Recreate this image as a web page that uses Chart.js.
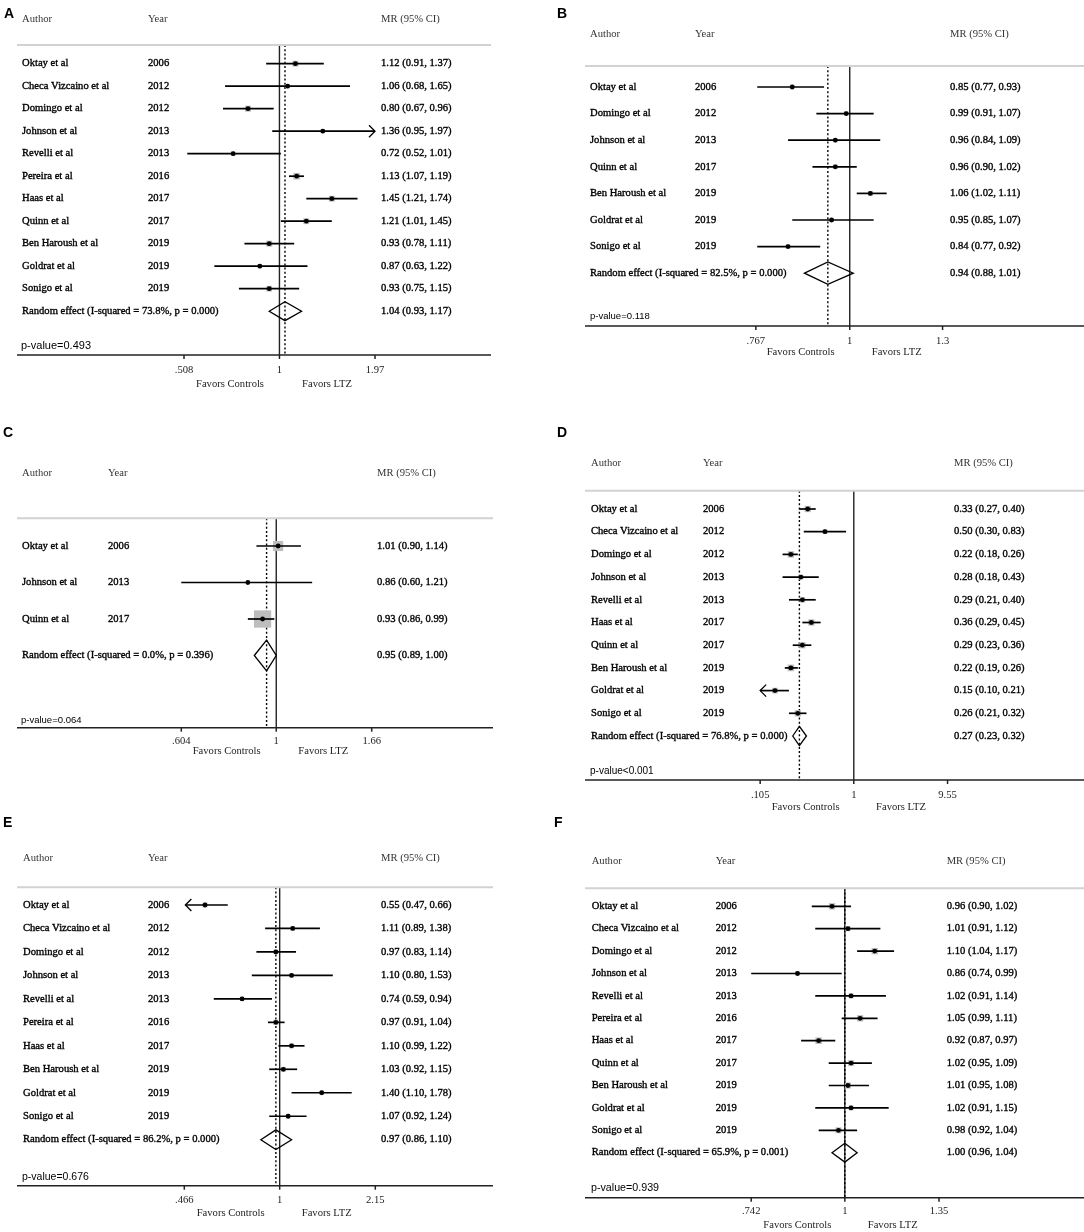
<!DOCTYPE html>
<html>
<head>
<meta charset="utf-8">
<title>Forest plots A-F</title>
<script src="https://cdn.jsdelivr.net/npm/chart.js@4.4.1/dist/chart.umd.min.js"></script>
<style>
  body { margin: 0; background: #fff; }
  #wrap { position: relative; width: 1084px; height: 1232px; overflow: hidden; }
  canvas { position: absolute; }
</style>
</head>
<body>
<div id="wrap"></div>
<script>
// ---- data ----
// A
var authorsA = ['Oktay et al', 'Checa Vizcaino et al', 'Domingo et al', 'Johnson et al', 'Revelli et al', 'Pereira et al', 'Haas et al', 'Quinn et al', 'Ben Haroush et al', 'Goldrat et al', 'Sonigo et al'];
var yearsA = [2006, 2012, 2012, 2013, 2013, 2016, 2017, 2017, 2019, 2019, 2019];
var mrA = [1.12, 1.06, 0.80, 1.36, 0.72, 1.13, 1.45, 1.21, 0.93, 0.87, 0.93];
var loA = [0.91, 0.68, 0.67, 0.95, 0.52, 1.07, 1.21, 1.01, 0.78, 0.63, 0.75];
var hiA = [1.37, 1.65, 0.96, 1.97, 1.01, 1.19, 1.74, 1.45, 1.11, 1.22, 1.15];
var weightA = [9.5, 4.5, 10, 4.5, 5.5, 12, 9.5, 9.5, 10, 5, 9];
var pooledA = [1.04, 0.93, 1.17];
var i2A = 73.8, hetPA = 0.000;
var pValueA = 'p-value=0.493';
var ticksA = [0.508, 1, 1.97];
var arrowsA = [3];

// B
var authorsB = ['Oktay et al', 'Domingo et al', 'Johnson et al', 'Quinn et al', 'Ben Haroush et al', 'Goldrat et al', 'Sonigo et al'];
var yearsB = [2006, 2012, 2013, 2017, 2019, 2019, 2019];
var mrB = [0.85, 0.99, 0.96, 0.96, 1.06, 0.95, 0.84];
var loB = [0.77, 0.91, 0.84, 0.90, 1.02, 0.85, 0.77];
var hiB = [0.93, 1.07, 1.09, 1.02, 1.11, 1.07, 0.92];
var weightB = [14.5, 14, 12.5, 15.5, 16.5, 12.5, 14.5];
var pooledB = [0.94, 0.88, 1.01];
var i2B = 82.5, hetPB = 0.000;
var pValueB = 'p-value=0.118';
var ticksB = [0.767, 1, 1.3];
var arrowsB = [];

// C
var authorsC = ['Oktay et al', 'Johnson et al', 'Quinn et al'];
var yearsC = [2006, 2013, 2017];
var mrC = [1.01, 0.86, 0.93];
var loC = [0.90, 0.60, 0.86];
var hiC = [1.14, 1.21, 0.99];
var weightC = [25, 3, 72];
var pooledC = [0.95, 0.89, 1.00];
var i2C = 0.0, hetPC = 0.396;
var pValueC = 'p-value=0.064';
var ticksC = [0.604, 1, 1.66];
var arrowsC = [];

// D
var authorsD = ['Oktay et al', 'Checa Vizcaino et al', 'Domingo et al', 'Johnson et al', 'Revelli et al', 'Haas et al', 'Quinn et al', 'Ben Haroush et al', 'Goldrat et al', 'Sonigo et al'];
var yearsD = [2006, 2012, 2012, 2013, 2013, 2017, 2017, 2019, 2019, 2019];
var mrD = [0.33, 0.50, 0.22, 0.28, 0.29, 0.36, 0.29, 0.22, 0.15, 0.26];
var loD = [0.27, 0.30, 0.18, 0.18, 0.21, 0.29, 0.23, 0.19, 0.10, 0.21];
var hiD = [0.40, 0.83, 0.26, 0.43, 0.40, 0.45, 0.36, 0.26, 0.21, 0.32];
var weightD = [11, 6, 11.5, 6.5, 9, 11, 11, 12, 9, 11];
var pooledD = [0.27, 0.23, 0.32];
var i2D = 76.8, hetPD = 0.000;
var pValueD = 'p-value<0.001';
var ticksD = [0.105, 1, 9.55];
var arrowsD = [8];

// E
var authorsE = ['Oktay et al', 'Checa Vizcaino et al', 'Domingo et al', 'Johnson et al', 'Revelli et al', 'Pereira et al', 'Haas et al', 'Ben Haroush et al', 'Goldrat et al', 'Sonigo et al'];
var yearsE = [2006, 2012, 2012, 2013, 2013, 2016, 2017, 2019, 2019, 2019];
var mrE = [0.55, 1.11, 0.97, 1.10, 0.74, 0.97, 1.10, 1.03, 1.40, 1.07];
var loE = [0.47, 0.89, 0.83, 0.80, 0.59, 0.91, 0.99, 0.92, 1.10, 0.92];
var hiE = [0.66, 1.38, 1.14, 1.53, 0.94, 1.04, 1.22, 1.15, 1.78, 1.24];
var weightE = [10.5, 9, 9.5, 7, 8.5, 12, 11, 11, 8, 10];
var pooledE = [0.97, 0.86, 1.10];
var i2E = 86.2, hetPE = 0.000;
var pValueE = 'p-value=0.676';
var ticksE = [0.466, 1, 2.15];
var arrowsE = [0];

// F
var authorsF = ['Oktay et al', 'Checa Vizcaino et al', 'Domingo et al', 'Johnson et al', 'Revelli et al', 'Pereira et al', 'Haas et al', 'Quinn et al', 'Ben Haroush et al', 'Goldrat et al', 'Sonigo et al'];
var yearsF = [2006, 2012, 2012, 2013, 2013, 2016, 2017, 2017, 2019, 2019, 2019];
var mrF = [0.96, 1.01, 1.10, 0.86, 1.02, 1.05, 0.92, 1.02, 1.01, 1.02, 0.98];
var loF = [0.90, 0.91, 1.04, 0.74, 0.91, 0.99, 0.87, 0.95, 0.95, 0.91, 0.92];
var hiF = [1.02, 1.12, 1.17, 0.99, 1.14, 1.11, 0.97, 1.09, 1.08, 1.15, 1.04];
var weightF = [11, 7, 11, 5, 7, 11, 12, 9.5, 10, 6.5, 10];
var pooledF = [1.00, 0.96, 1.04];
var i2F = 65.9, hetPF = 0.001;
var pValueF = 'p-value=0.939';
var ticksF = [0.742, 1, 1.35];
var arrowsF = [];

// ---- layout of each panel (pixels, local to its canvas) ----
var panels = [
	{ letter: 'A', authors: authorsA, years: yearsA, mr: mrA, lo: loA, hi: hiA, weight: weightA, pooled: pooledA, i2: i2A, hetP: hetPA, pValue: pValueA, ticks: ticksA, arrows: arrowsA,
	  geo: { left: 0, top: 0, w: 540, h: 410, letterX: 4, letterY: 18, headY: 19, colAuthor: 22, colYear: 148, colMR: 381, headerLine: 45, lineLeft: 17, lineRight: 491,
	         row0: 63.7, step: 22.5, pX: 21, pY: 346, pFont: 11, axis: 355, tickLoPx: 184, tickHiPx: 375, tickLabelY: 370, favY: 384, favL: 230, favR: 327, boxScale: 1.9 } },
	{ letter: 'B', authors: authorsB, years: yearsB, mr: mrB, lo: loB, hi: hiB, weight: weightB, pooled: pooledB, i2: i2B, hetP: hetPB, pValue: pValueB, ticks: ticksB, arrows: arrowsB,
	  geo: { left: 540, top: 0, w: 544, h: 410, letterX: 17, letterY: 18, headY: 34, colAuthor: 50, colYear: 155, colMR: 410, headerLine: 66, lineLeft: 45, lineRight: 544,
	         row0: 87, step: 26.6, pX: 50, pY: 316, pFont: 9.5, axis: 326, tickLoPx: 216.7, tickHiPx: 404.3, tickLabelY: 341, favY: 352, favL: 260.7, favR: 356.7, boxScale: 1.2 } },
	{ letter: 'C', authors: authorsC, years: yearsC, mr: mrC, lo: loC, hi: hiC, weight: weightC, pooled: pooledC, i2: i2C, hetP: hetPC, pValue: pValueC, ticks: ticksC, arrows: arrowsC,
	  geo: { left: 0, top: 410, w: 540, h: 402, letterX: 3, letterY: 27, headY: 63.3, colAuthor: 22, colYear: 108, colMR: 377, headerLine: 108.3, lineLeft: 17, lineRight: 493,
	         row0: 136, step: 36.5, pX: 21, pY: 310, pFont: 9.5, axis: 317.7, tickLoPx: 181.3, tickHiPx: 371.7, tickLabelY: 331, favY: 341.7, favL: 226.7, favR: 323.3, boxScale: 2.03 } },
	{ letter: 'D', authors: authorsD, years: yearsD, mr: mrD, lo: loD, hi: hiD, weight: weightD, pooled: pooledD, i2: i2D, hetP: hetPD, pValue: pValueD, ticks: ticksD, arrows: arrowsD,
	  geo: { left: 540, top: 410, w: 544, h: 402, letterX: 17, letterY: 27, headY: 53.3, colAuthor: 51, colYear: 163, colMR: 414, headerLine: 80.7, lineLeft: 45, lineRight: 544,
	         row0: 99, step: 22.7, pX: 50, pY: 361, pFont: 10, axis: 370, tickLoPx: 221, tickHiPx: 409.3, tickLabelY: 385.7, favY: 397.3, favL: 265.7, favR: 361, boxScale: 1.9 } },
	{ letter: 'E', authors: authorsE, years: yearsE, mr: mrE, lo: loE, hi: hiE, weight: weightE, pooled: pooledE, i2: i2E, hetP: hetPE, pValue: pValueE, ticks: ticksE, arrows: arrowsE,
	  geo: { left: 0, top: 812, w: 540, h: 420, letterX: 3, letterY: 15, headY: 46.3, colAuthor: 23, colYear: 148, colMR: 381, headerLine: 75.3, lineLeft: 17, lineRight: 493,
	         row0: 93, step: 23.47, pX: 22, pY: 364.7, pFont: 10.5, axis: 373.7, tickLoPx: 184.3, tickHiPx: 375.3, tickLabelY: 388, favY: 401.3, favL: 230.7, favR: 326.7, boxScale: 1.5 } },
	{ letter: 'F', authors: authorsF, years: yearsF, mr: mrF, lo: loF, hi: hiF, weight: weightF, pooled: pooledF, i2: i2F, hetP: hetPF, pValue: pValueF, ticks: ticksF, arrows: arrowsF,
	  geo: { left: 540, top: 812, w: 544, h: 420, letterX: 14, letterY: 15, headY: 49.7, colAuthor: 51.7, colYear: 175.7, colMR: 406.7, headerLine: 76.3, lineLeft: 45, lineRight: 544,
	         row0: 94.3, step: 22.4, pX: 51, pY: 376.3, pFont: 10.7, axis: 385.7, tickLoPx: 212, tickHiPx: 400.7, tickLabelY: 399.7, favY: 413.7, favL: 257.3, favR: 352.7, boxScale: 1.9 } }
];

var SERIF = '10.6px "Liberation Serif", "Times New Roman", serif';

function seg(ctx, x1, y1, x2, y2)
{
	ctx.beginPath();
	ctx.moveTo(x1, y1);
	ctx.lineTo(x2, y2);
	ctx.stroke();
}

// slightly heavier text, the scanned figure renders its serif text thick
function heavyText(ctx, txt, x, y)
{
	ctx.strokeText(txt, x, y);
	ctx.fillText(txt, x, y);
}

function ci(m, l, h)
{
	return m.toFixed(2) + ' (' + l.toFixed(2) + ', ' + h.toFixed(2) + ')';
}

function tickText(t)
{
	return String(t).replace(/^0\./, '.');
}

function makeForest(d)
{
	var g = d.geo;
	var lim = [d.ticks[0], d.ticks[d.ticks.length - 1]];
	return {
		id: 'forest' + d.letter,
		beforeDatasetsDraw: function(chart)
		{
			var ctx = chart.ctx, xs = chart.scales.x, ys = chart.scales.y;
			var n = d.authors.length;
			ctx.save();

			// null line and pooled estimate line
			var x1 = xs.getPixelForValue(1);
			ctx.strokeStyle = '#222';
			ctx.lineWidth = 1.4;
			seg(ctx, x1, g.headerLine, x1, g.axis);
			var xp = xs.getPixelForValue(d.pooled[0]);
			ctx.strokeStyle = '#000';
			ctx.setLineDash([2, 2.2]);
			seg(ctx, xp, g.headerLine, xp, g.axis);
			ctx.setLineDash([]);

			// weight boxes
			ctx.fillStyle = '#bdbdbd';
			for (var i = 0; i < n; i++)
			{
				var s = g.boxScale * Math.sqrt(d.weight[i]);
				var cx = xs.getPixelForValue(d.mr[i]), cy = ys.getPixelForValue(i);
				ctx.fillRect(cx - s / 2, cy - s / 2, s, s);
			}

			// confidence intervals
			ctx.strokeStyle = '#000';
			ctx.lineWidth = 1.7;
			for (var i = 0; i < n; i++)
			{
				var a = xs.getPixelForValue(Math.max(d.lo[i], lim[0]));
				var b = xs.getPixelForValue(Math.min(d.hi[i], lim[1]));
				var yy = ys.getPixelForValue(i);
				seg(ctx, a, yy, b, yy);
				if (d.arrows.indexOf(i) >= 0)
				{
					// arrow on whichever end sits on the axis limit
					var leftSide = Math.abs(Math.log(d.lo[i] / lim[0])) < Math.abs(Math.log(d.hi[i] / lim[1]));
					var tip = leftSide ? a : b, dir = leftSide ? 1 : -1;
					ctx.lineWidth = 1.3;
					ctx.beginPath();
					ctx.moveTo(tip + dir * 6, yy - 6);
					ctx.lineTo(tip, yy);
					ctx.lineTo(tip + dir * 6, yy + 6);
					ctx.stroke();
					ctx.lineWidth = 1.7;
				}
			}

			// pooled diamond
			var yd = ys.getPixelForValue(n), hh = g.step * 0.42;
			ctx.lineWidth = 1.3;
			ctx.beginPath();
			ctx.moveTo(xs.getPixelForValue(d.pooled[1]), yd);
			ctx.lineTo(xp, yd - hh);
			ctx.lineTo(xs.getPixelForValue(d.pooled[2]), yd);
			ctx.lineTo(xp, yd + hh);
			ctx.closePath();
			ctx.stroke();
			ctx.restore();
		},
		afterDatasetsDraw: function(chart)
		{
			var ctx = chart.ctx, xs = chart.scales.x, ys = chart.scales.y;
			var n = d.authors.length;
			ctx.save();

			// panel letter
			ctx.fillStyle = '#000';
			ctx.font = 'bold 14px "Liberation Sans", Arial, sans-serif';
			ctx.textAlign = 'left';
			ctx.textBaseline = 'alphabetic';
			ctx.fillText(d.letter, g.letterX, g.letterY);

			// header
			ctx.font = SERIF;
			ctx.textBaseline = 'middle';
			ctx.fillStyle = '#333';
			ctx.fillText('Author', g.colAuthor, g.headY);
			ctx.fillText('Year', g.colYear, g.headY);
			ctx.fillText('MR (95% CI)', g.colMR, g.headY);

			ctx.strokeStyle = '#d2d2d2';
			ctx.lineWidth = 2;
			seg(ctx, g.lineLeft, g.headerLine, g.lineRight, g.headerLine);

			// study rows
			ctx.fillStyle = '#000';
			ctx.strokeStyle = '#000';
			ctx.lineWidth = 0.35;
			for (var i = 0; i < n; i++)
			{
				var yy = ys.getPixelForValue(i);
				heavyText(ctx, d.authors[i], g.colAuthor, yy);
				heavyText(ctx, String(d.years[i]), g.colYear, yy);
				heavyText(ctx, ci(d.mr[i], d.lo[i], d.hi[i]), g.colMR, yy);
			}
			var yd = ys.getPixelForValue(n);
			heavyText(ctx, 'Random effect (I-squared = ' + d.i2.toFixed(1) + '%, p = ' + d.hetP.toFixed(3) + ')', g.colAuthor, yd);
			heavyText(ctx, ci(d.pooled[0], d.pooled[1], d.pooled[2]), g.colMR, yd);

			// overall p-value
			ctx.font = g.pFont + 'px "Liberation Sans", Arial, sans-serif';
			ctx.fillText(d.pValue, g.pX, g.pY);

			// x axis
			ctx.strokeStyle = '#222';
			ctx.lineWidth = 1.5;
			seg(ctx, g.lineLeft, g.axis, g.lineRight, g.axis);
			ctx.font = SERIF;
			ctx.textAlign = 'center';
			ctx.fillStyle = '#222';
			d.ticks.forEach(function(t) {
				var tx = xs.getPixelForValue(t);
				seg(ctx, tx, g.axis, tx, g.axis + 4);
				ctx.fillText(tickText(t), tx, g.tickLabelY);
			});
			ctx.fillText('Favors Controls', g.favL, g.favY);
			ctx.fillText('Favors LTZ', g.favR, g.favY);
			ctx.restore();
		}
	};
}

var wrap = document.getElementById('wrap');

panels.forEach(function(d) {
	var g = d.geo;
	var cnvs = document.createElement('canvas');
	cnvs.width = g.w;
	cnvs.height = g.h;
	cnvs.style.left = g.left + 'px';
	cnvs.style.top = g.top + 'px';
	cnvs.style.width = g.w + 'px';
	cnvs.style.height = g.h + 'px';
	wrap.appendChild(cnvs);

	// log x range so that the outer ticks land where the figure puts them
	var lo = d.ticks[0], hi = d.ticks[d.ticks.length - 1];
	var pxPerLn = (g.tickHiPx - g.tickLoPx) / Math.log(hi / lo);
	var xMin = lo * Math.exp(-(g.tickLoPx - g.lineLeft) / pxPerLn);
	var xMax = hi * Math.exp((g.lineRight - g.tickHiPx) / pxPerLn);

	var points = d.mr.map(function(v, i) { return { x: v, y: i }; });

	new Chart(cnvs.getContext('2d'), {
		type: 'scatter',
		data: {
			datasets: [{
				data: points,
				pointRadius: 2.4,
				pointBackgroundColor: '#000',
				pointBorderWidth: 0,
				pointHoverRadius: 2.4
			}]
		},
		options: {
			responsive: false,
			animation: false,
			events: [],
			layout: { padding: { left: g.lineLeft, right: g.w - g.lineRight, top: g.headerLine, bottom: g.h - g.axis } },
			plugins: { legend: { display: false }, tooltip: { enabled: false } },
			scales: {
				x: { type: 'logarithmic', display: false, min: xMin, max: xMax },
				y: { type: 'linear', display: false, reverse: true,
				     min: (g.headerLine - g.row0) / g.step, max: (g.axis - g.row0) / g.step }
			}
		},
		plugins: [makeForest(d)]
	});
});
</script>
</body>
</html>
